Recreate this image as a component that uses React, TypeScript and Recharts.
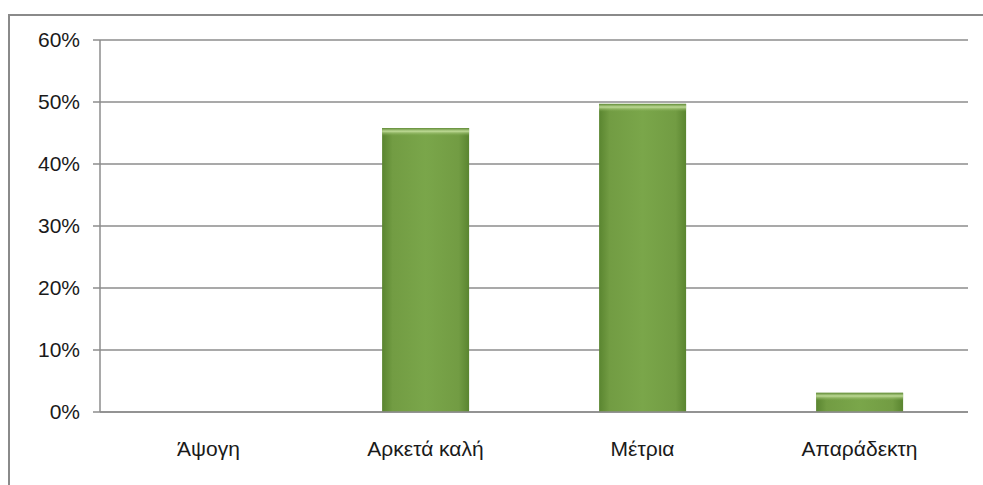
import React from "react";
import { BarChart, Bar, XAxis, YAxis, CartesianGrid } from "recharts";

const categories = ["Άψογη", "Αρκετά καλή", "Μέτρια", "Απαράδεκτη"];
const values = [0, 45.8, 49.7, 3.1];
const yTicks = [0, 10, 20, 30, 40, 50, 60];

const data = categories.map((name, i) => ({ name, value: values[i] }));

const BarShape = (props: any) => {
  const { x, y, width, height } = props;
  if (!height || height <= 0) return null;
  const hl = Math.min(8, height);
  return (
    <g>
      <rect x={x} y={y} width={width} height={height} fill="url(#barGrad)" />
      <rect x={x} y={y} width={width} height={hl} fill="url(#topGrad)" />
    </g>
  );
};

const FONT = "Liberation Sans, Arial, sans-serif";

export default function App() {
  return (
    <div style={{ position: "absolute", left: 0, top: 0, width: 983, height: 485, background: "#fff" }}>
      <div
        style={{
          position: "absolute",
          left: 8,
          top: 14,
          width: 975,
          height: 471,
          borderTop: "2px solid #8a8a8a",
          borderLeft: "2px solid #8a8a8a",
          boxSizing: "border-box",
        }}
      />
      <div style={{ position: "absolute", left: 0, top: 0 }}>
        <BarChart
          width={983}
          height={485}
          data={data}
          margin={{ top: 40, right: 15, bottom: 0, left: 0 }}
          barCategoryGap="30%"
        >
          <defs>
            <linearGradient id="barGrad" x1="0" y1="0" x2="1" y2="0">
              <stop offset="0%" stopColor="#5a8530" />
              <stop offset="12%" stopColor="#729c43" />
              <stop offset="50%" stopColor="#7aa64a" />
              <stop offset="88%" stopColor="#729c43" />
              <stop offset="100%" stopColor="#5a8530" />
            </linearGradient>
            <linearGradient id="topGrad" x1="0" y1="0" x2="0" y2="1">
              <stop offset="0%" stopColor="#5f8a35" stopOpacity={0.9} />
              <stop offset="40%" stopColor="#c2dd9a" stopOpacity={0.95} />
              <stop offset="100%" stopColor="#7aa64a" stopOpacity={0} />
            </linearGradient>
          </defs>
          <CartesianGrid vertical={false} stroke="#8c8c8c" strokeWidth={1.5} />
          <XAxis
            dataKey="name"
            height={73}
            tickLine={false}
            tickSize={0}
            tickMargin={29}
            axisLine={{ stroke: "#8c8c8c", strokeWidth: 1.5 }}
            tick={{ fill: "#1a1a1a", fontSize: 21, fontFamily: FONT }}
          />
          <YAxis
            width={100}
            domain={[0, 60]}
            ticks={yTicks}
            interval={0}
            tickFormatter={(v: number) => `${v}%`}
            tickSize={7}
            tickMargin={13}
            tickLine={{ stroke: "#8c8c8c", strokeWidth: 1.5 }}
            axisLine={{ stroke: "#8c8c8c", strokeWidth: 1.5 }}
            tick={{ fill: "#1a1a1a", fontSize: 21, fontFamily: FONT }}
          />
          <Bar dataKey="value" isAnimationActive={false} shape={<BarShape />} />
        </BarChart>
      </div>
    </div>
  );
}
